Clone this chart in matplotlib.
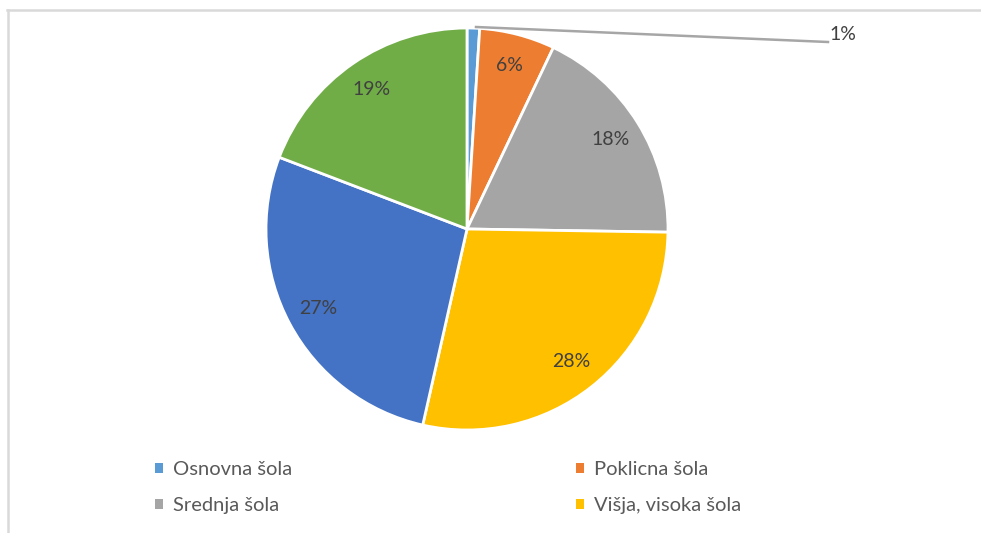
import matplotlib
matplotlib.use("Agg")
import matplotlib.pyplot as plt
from matplotlib.lines import Line2D

# ── data ────────────────────────────────────────────────────────────────────
labels = ["Osnovna šola", "Poklicna šola", "Srednja šola",
          "Višja, visoka šola", "Univerzitetna", "Podiplomska"]
values = [1, 6, 18, 28, 27, 19]
colors = ["#5B9BD5", "#ED7D31", "#A5A5A5", "#FFC000", "#4472C4", "#70AD47"]
legend_order = [0, 2, 1, 3]   # row-wise reading of the visible legend entries

plt.rcParams["font.family"] = ["Lato", "DejaVu Sans"]
TXT = "#404040"

W, H = 981, 533
fig = plt.figure(figsize=(W / 100, H / 100), dpi=100)
fig.patch.set_facecolor("white")

# pie axes: centre (467, 229) px, radius 201 px
CX, CY, R = 467, 229, 201
ax = fig.add_axes([(CX - R) / W, (H - CY - R) / H, 2 * R / W, 2 * R / H])

total = sum(values)
wedges, texts, autotexts = ax.pie(
    values, colors=colors, startangle=90, counterclock=False,
    autopct=lambda p: f"{p:.0f}%", pctdistance=0.84,
    wedgeprops=dict(edgecolor="white", linewidth=2),
    textprops=dict(color=TXT, fontsize=14))
ax.set_xlim(-1, 1)
ax.set_ylim(-1, 1)
ax.axis("off")

# first slice is too small: move its label outside with a leader line
small = autotexts[0]
small.set_visible(False)
lx0, ly0 = (476 - CX) / R, (CY - 27) / R
lx1, ly1 = (828 - CX) / R, (CY - 42) / R
ax.plot([lx0, lx1], [ly0, ly1], color="#A6A6A6", lw=1.8, clip_on=False)
ax.text(lx1 + 0.005, ly1 + 0.035, f"{values[0] / total * 100:.0f}%",
        ha="left", va="center", fontsize=14, color=TXT)

# legend
leg = fig.legend([wedges[i] for i in legend_order],
                 [labels[i] for i in legend_order], ncol=2,
                 loc="upper left", bbox_to_anchor=(141 / W, 1 - 447 / H),
                 frameon=False, fontsize=14.5, labelcolor="#595959",
                 handlelength=0.4, handleheight=0.4, handletextpad=0.5,
                 columnspacing=14.1, labelspacing=0.95, borderpad=0.2)
for h in leg.legend_handles:
    h.set_edgecolor("none")

# chart-area frame (top and left edges visible)
frame_c = "#D9D9D9"
fig.add_artist(Line2D([7 / W, 1], [1 - 10 / H, 1 - 10 / H],
                      color=frame_c, lw=1.8, transform=fig.transFigure))
fig.add_artist(Line2D([8 / W, 8 / W], [0, 1 - 10 / H],
                      color=frame_c, lw=1.8, transform=fig.transFigure))

fig.savefig("out.png", dpi=100, facecolor="white")
